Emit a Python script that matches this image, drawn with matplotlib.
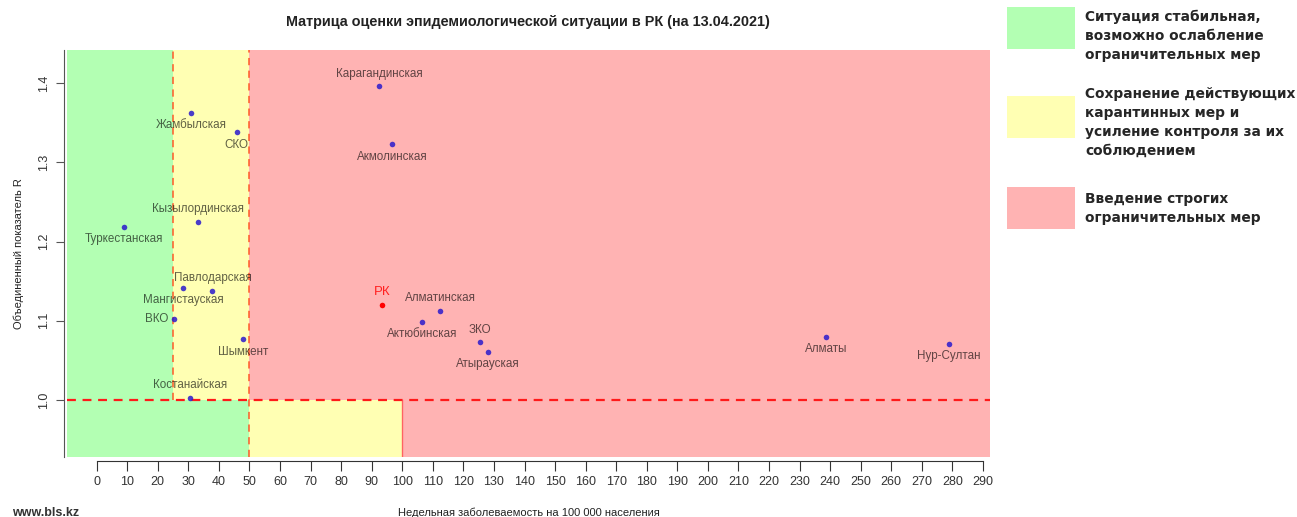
import numpy as np
import matplotlib.pyplot as plt
from matplotlib.patches import Rectangle

# данные
regions = ['Карагандинская', 'Акмолинская', 'Жамбылская', 'СКО', 'Кызылординская',
           'Туркестанская', 'Павлодарская', 'Мангистауская', 'ВКО', 'Шымкент',
           'Костанайская', 'Алматинская', 'Актюбинская', 'ЗКО', 'Атырауская',
           'Алматы', 'Нур-Султан']
incidence = [92.5, 96.7, 31.0, 45.8, 33.3, 8.8, 37.9, 28.4, 25.2, 48.0,
             30.7, 112.4, 106.5, 125.5, 128.0, 238.6, 278.8]
r_value = [1.396, 1.323, 1.363, 1.338, 1.225, 1.219, 1.138, 1.142, 1.102, 1.077,
           1.003, 1.113, 1.099, 1.073, 1.061, 1.080, 1.071]
label_pos = ['top', 'bottom', 'bottom', 'bottom', 'top', 'bottom', 'top', 'bottom',
             'left', 'bottom', 'top', 'top', 'bottom', 'top', 'bottom', 'bottom', 'bottom']

rk_name = 'РК'
rk_x = 93.5
rk_r = 1.12

x_ticks = list(range(0, 300, 10))
y_ticks = [1.0, 1.1, 1.2, 1.3, 1.4]

legend_texts = ['Ситуация стабильная,\nвозможно ослабление\nограничительных мер',
                'Сохранение действующих\nкарантинных мер и\nусиление контроля за их\nсоблюдением',
                'Введение строгих\nограничительных мер']

green = '#b3ffb3'
yellow = '#ffffb3'
red = '#ffb3b3'

plt.rcParams['font.family'] = ['Liberation Sans', 'DejaVu Sans']

W, H = 1297, 517
fig = plt.figure(figsize=(W / 100, H / 100), dpi=100)
ax = fig.add_axes([67 / W, 1 - 457 / H, 923 / W, 407 / H])

xmin, xmax = -9.7, 292.3
ymin, ymax = 0.928, 1.442
ax.set_xlim(xmin, xmax)
ax.set_ylim(ymin, ymax)

# зоны
ax.add_patch(Rectangle((xmin, 1.0), 25 - xmin, ymax - 1.0, color=green, lw=0, zorder=0))
ax.add_patch(Rectangle((25, 1.0), 25, ymax - 1.0, color=yellow, lw=0, zorder=0))
ax.add_patch(Rectangle((50, 1.0), xmax - 50, ymax - 1.0, color=red, lw=0, zorder=0))
ax.add_patch(Rectangle((xmin, ymin), 50 - xmin, 1.0 - ymin, color=green, lw=0, zorder=0))
ax.add_patch(Rectangle((50, ymin), 50, 1.0 - ymin, color=yellow, lw=0, zorder=0))
ax.add_patch(Rectangle((100, ymin), xmax - 100, 1.0 - ymin, color=red, lw=0, zorder=0))

# границы
ax.plot([25, 25], [1.0, ymax], color='#ff5020', ls=(0, (4, 3)), lw=1.3, alpha=0.8)
ax.plot([50, 50], [ymin, ymax], color='#ff5020', ls=(0, (4, 3)), lw=1.3, alpha=0.8)
ax.axhline(1.0, color='#ff1a1a', ls=(0, (4, 3)), lw=1.6)
ax.plot([100, 100], [ymin, 1.0], color='#ff4040', lw=1.0, alpha=0.7)

# точки
ax.scatter(incidence, r_value, s=16, color='#2a1acc', alpha=0.85, zorder=3, lw=0)
ax.scatter([rk_x], [rk_r], s=16, color='#ff0000', zorder=3, lw=0)

offsets = {'top': (0, 9, 'center', 'center'), 'bottom': (0, -9, 'center', 'center'),
           'left': (-4, 0, 'right', 'center')}
for name, x, y, p in zip(regions, incidence, r_value, label_pos):
    dx, dy, ha, va = offsets[p]
    ax.annotate(name, (x, y), xytext=(dx, dy), textcoords='offset points',
                ha=ha, va=va, fontsize=8.4, color='black', alpha=0.62)
ax.annotate(rk_name, (rk_x, rk_r), xytext=(0, 9), textcoords='offset points',
            ha='center', va='center', fontsize=9.5, color='#ff2020')

# оси
for s in ['top', 'right']:
    ax.spines[s].set_visible(False)
ax.spines['bottom'].set_position(('outward', 3))
ax.spines['bottom'].set_bounds(0, 290)
ax.spines['left'].set_position(('outward', 2))
ax.spines['left'].set_color('#555555')
ax.spines['bottom'].set_color('#333333')
ax.set_xticks(x_ticks)
ax.set_xticklabels([str(t) for t in x_ticks], fontsize=9, color='#333333')
ax.set_yticks(y_ticks)
ax.set_yticklabels(['%.1f' % t for t in y_ticks], fontsize=9, rotation=90,
                   va='center', color='#333333')
ax.tick_params(axis='x', length=7, pad=4, color='#333333')
ax.tick_params(axis='y', length=6, pad=4, color='#555555')

ax.set_xlabel('Недельная заболеваемость на 100 000 населения', fontsize=8, color='#222222',
              labelpad=14)
ax.set_ylabel('Объединенный показатель R', fontsize=8, color='#222222', labelpad=10)

fig.text(528 / W, 1 - 22 / H, 'Матрица оценки эпидемиологической ситуации в РК (на 13.04.2021)',
         ha='center', va='center', fontsize=10.4, fontweight='bold', color='#222222')

# легенда справа
legend_colors = [green, yellow, red]
box_tops = [7, 96, 187]
text_tops = [10, 87, 192]
for c, bt, tt, txt in zip(legend_colors, box_tops, text_tops, legend_texts):
    fig.add_artist(Rectangle((1007 / W, 1 - (bt + 42) / H), 68 / W, 42 / H,
                             transform=fig.transFigure, color=c, lw=0))
    fig.text(1085 / W, 1 - tt / H, txt, ha='left', va='top', fontsize=9.9,
             fontweight='bold', family='DejaVu Sans', color='#262626', linespacing=1.45)

fig.text(12 / W, 1 - 513 / H, 'www.bls.kz', ha='left', va='center', fontsize=9,
         fontweight='bold', color='#333333')

fig.savefig('out.png', dpi=100)
